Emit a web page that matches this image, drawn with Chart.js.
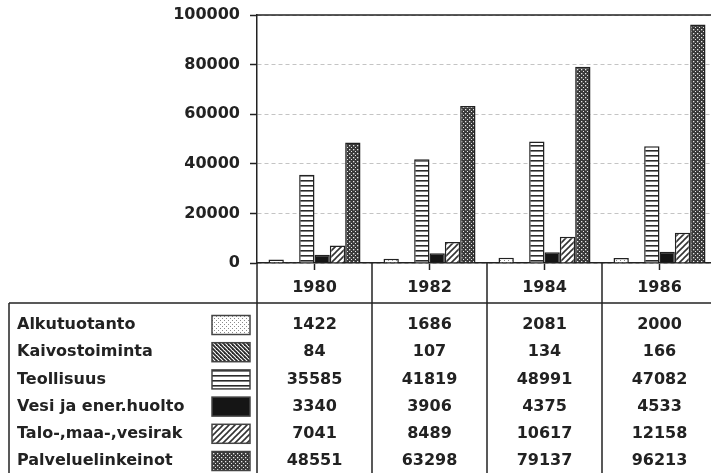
<!DOCTYPE html>
<html>
<head>
<meta charset="utf-8">
<script src="https://cdn.jsdelivr.net/npm/chart.js@4/dist/chart.umd.min.js"></script>
<style>
html,body{margin:0;padding:0;background:#fff;overflow:hidden;}
#wrap{width:720px;height:473px;}
</style>
</head>
<body>
<div id="wrap"><canvas id="c" width="720" height="473"></canvas></div>
<script>
// ---- data ----
const years = ['1980', '1982', '1984', '1986'];
const seriesNames = ['Alkutuotanto', 'Kaivostoiminta', 'Teollisuus', 'Vesi ja ener.huolto', 'Talo-,maa-,vesirak', 'Palveluelinkeinot'];
const alkutuotanto = [1422, 1686, 2081, 2000];
const kaivostoiminta = [84, 107, 134, 166];
const teollisuus = [35585, 41819, 48991, 47082];
const vesiEnerHuolto = [3340, 3906, 4375, 4533];
const taloMaaVesirak = [7041, 8489, 10617, 12158];
const palveluelinkeinot = [48551, 63298, 79137, 96213];
const yTicks = [0, 20000, 40000, 60000, 80000, 100000];

const INK = '#222';
const FONT = 'DejaVu Sans';

function makePattern(w, h, draw) {
  const c = document.createElement('canvas');
  c.width = w; c.height = h;
  const g = c.getContext('2d');
  draw(g, w, h);
  return g.createPattern(c, 'repeat');
}
const patStipple = makePattern(4, 4, (g) => {
  g.fillStyle = '#fff'; g.fillRect(0, 0, 4, 4);
  g.fillStyle = '#8a8a8a'; g.fillRect(0, 0, 1, 1); g.fillRect(2, 2, 1, 1);
});
const patBack = makePattern(4, 4, (g) => {
  g.fillStyle = '#fff'; g.fillRect(0, 0, 4, 4);
  g.strokeStyle = '#2a2a2a'; g.lineWidth = 1.8;
  g.beginPath(); g.moveTo(-1, -1); g.lineTo(5, 5); g.stroke();
  g.beginPath(); g.moveTo(3, -1); g.lineTo(5, 1); g.stroke();
  g.beginPath(); g.moveTo(-1, 3); g.lineTo(1, 5); g.stroke();
});
const patHoriz = makePattern(4, 5, (g) => {
  g.fillStyle = '#fff'; g.fillRect(0, 0, 4, 5);
  g.fillStyle = '#2a2a2a'; g.fillRect(0, 0, 4, 1.6);
});
const patSlash = makePattern(6, 6, (g) => {
  g.fillStyle = '#fff'; g.fillRect(0, 0, 6, 6);
  g.strokeStyle = '#333'; g.lineWidth = 1.6;
  g.beginPath(); g.moveTo(-1, 7); g.lineTo(7, -1); g.stroke();
  g.beginPath(); g.moveTo(-1, 1); g.lineTo(1, -1); g.stroke();
  g.beginPath(); g.moveTo(5, 7); g.lineTo(7, 5); g.stroke();
});
const patDots = makePattern(4, 4, (g) => {
  g.fillStyle = '#3a3a3a'; g.fillRect(0, 0, 4, 4);
  g.fillStyle = '#e8e8e8'; g.fillRect(1, 1, 1.3, 1.3); g.fillRect(3, 3, 1.3, 1.3);
});

const seriesData = [alkutuotanto, kaivostoiminta, teollisuus, vesiEnerHuolto, taloMaaVesirak, palveluelinkeinot];
const fills = [patStipple, patBack, patHoriz, '#151515', patSlash, patDots];

const datasets = seriesNames.map((n, i) => ({
  label: n,
  data: seriesData[i],
  backgroundColor: fills[i],
  borderColor: INK,
  borderWidth: 1.5,
  barPercentage: 1.0,
  categoryPercentage: 0.8
}));

const tablePlugin = {
  id: 'tablePlugin',
  afterDraw(chart) {
    const ctx = chart.ctx;
    const ca = chart.chartArea;
    const xs = chart.scales.x;
    const H = chart.height;
    ctx.save();
    ctx.strokeStyle = INK;
    ctx.lineWidth = 1.5;
    // top frame line
    ctx.beginPath(); ctx.moveTo(ca.left, ca.top); ctx.lineTo(chart.width, ca.top); ctx.stroke();
    // column boundaries
    const bounds = [ca.left];
    for (let i = 0; i < years.length - 1; i++) {
      bounds.push((xs.getPixelForValue(i) + xs.getPixelForValue(i + 1)) / 2);
    }
    bounds.forEach(b => {
      ctx.beginPath(); ctx.moveTo(b, ca.bottom); ctx.lineTo(b, H); ctx.stroke();
    });
    // header separator
    const sepY = 303;
    const boxLeft = 9;
    ctx.beginPath(); ctx.moveTo(boxLeft, sepY); ctx.lineTo(chart.width, sepY); ctx.stroke();
    ctx.beginPath(); ctx.moveTo(boxLeft, sepY); ctx.lineTo(boxLeft, H); ctx.stroke();
    // rows
    const rowY0 = 325, rowStep = 27.2;
    ctx.font = 'bold 16px "' + FONT + '"';
    ctx.fillStyle = INK;
    ctx.textBaseline = 'middle';
    seriesNames.forEach((n, r) => {
      const y = rowY0 + r * rowStep;
      ctx.textAlign = 'left';
      ctx.fillStyle = INK;
      ctx.fillText(n, 17, y);
      // swatch
      ctx.fillStyle = fills[r];
      ctx.fillRect(212, y - 9.5, 38, 19);
      ctx.lineWidth = 1.5;
      ctx.strokeStyle = '#444';
      ctx.strokeRect(212, y - 9.5, 38, 19);
      ctx.fillStyle = INK;
      ctx.textAlign = 'center';
      seriesData[r].forEach((v, c) => {
        ctx.fillText(String(v), xs.getPixelForValue(c), y);
      });
    });
    ctx.restore();
  }
};

new Chart(document.getElementById('c'), {
  type: 'bar',
  data: { labels: years, datasets },
  options: {
    responsive: false,
    animation: false,
    devicePixelRatio: 1,
    layout: { padding: { top: 15, right: 3, left: 0, bottom: 0 } },
    plugins: { legend: { display: false }, tooltip: { enabled: false } },
    scales: {
      x: {
        grid: { display: true, drawOnChartArea: false, offset: false, tickLength: 7, tickColor: INK, tickWidth: 1.5 },
        border: { display: true, color: INK, width: 1.5 },
        ticks: { color: INK, padding: 8, font: { family: FONT, size: 16, weight: 'bold' } },
        afterFit(s) { s.height = 210; }
      },
      y: {
        min: 0, max: 100000,
        afterBuildTicks(s) { s.ticks = yTicks.map(v => ({ value: v })); },
        grid: { color: '#c4c4c4', lineWidth: 1, tickLength: 7, tickColor: INK, tickWidth: 1.5, tickBorderDash: [] },
        border: { display: true, color: INK, width: 1.5, dash: [4, 3] },
        ticks: { color: INK, padding: 10, font: { family: FONT, size: 16, weight: 'bold' }, callback: (v) => String(v) },
        afterFit(s) { s.width = 257; s.paddingTop = 0; }
      }
    }
  },
  plugins: [tablePlugin]
});
</script>
</body>
</html>
